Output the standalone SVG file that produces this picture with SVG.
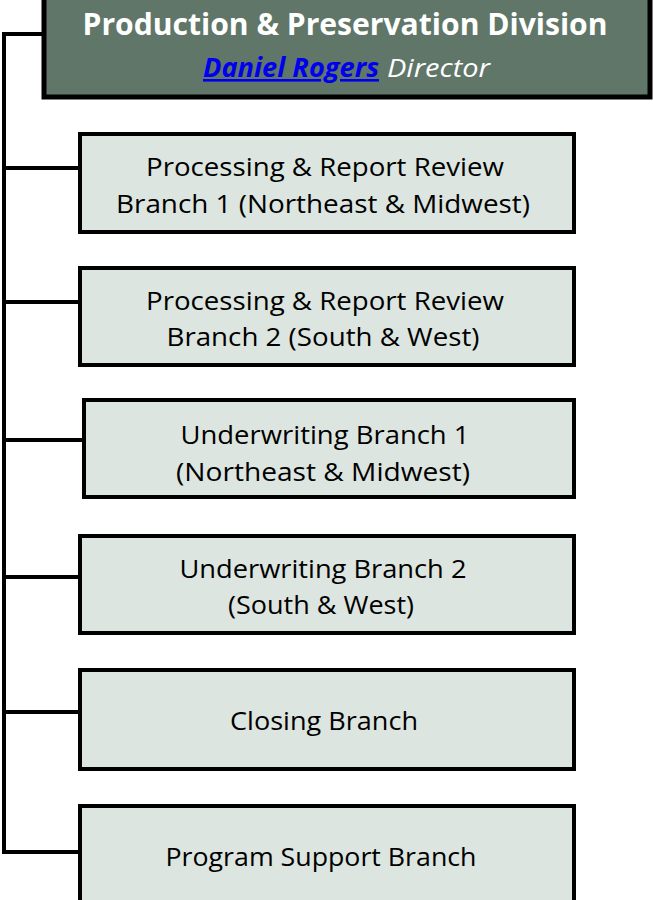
<svg xmlns="http://www.w3.org/2000/svg" width="654" height="900" viewBox="0 0 654 900">
<style>
.box{fill:#dce5df;stroke:#000;stroke-width:4}
.hdr{fill:#5f7668;stroke:#000;stroke-width:5}
.t{font-family:"Open Sans","Liberation Sans",sans-serif;font-size:26px;fill:#000;text-anchor:middle}
.c{fill:none;stroke:#000;stroke-width:4}
</style>
<rect width="654" height="900" fill="#fff"/>
<g id="connectors">
<path class="c" d="M44,34 H4 V852 H80"/>
<path class="c" d="M4,168 H80 M4,302 H80 M4,440 H84 M4,577 H80 M4,712 H80"/>
</g>
<g id="header">
<rect class="hdr" x="44" y="-3" width="606" height="100"/>
<text x="345" y="35" font-family="'Open Sans','Liberation Sans',sans-serif" font-weight="bold" font-size="31" fill="#fff" text-anchor="middle" textLength="525" lengthAdjust="spacingAndGlyphs">Production &amp; Preservation Division</text>
<text x="203" y="77" font-family="'Open Sans','Liberation Sans',sans-serif" font-style="italic" font-size="26"><tspan fill="#0000ee" font-weight="bold" text-decoration="underline" textLength="176" lengthAdjust="spacingAndGlyphs">Daniel Rogers</tspan><tspan fill="#fff" x="387" textLength="103" lengthAdjust="spacingAndGlyphs">Director</tspan></text>
</g>
<g id="n1">
<rect class="box" x="80" y="134" width="494" height="98"/>
<text class="t" x="325" y="176" textLength="358" lengthAdjust="spacingAndGlyphs">Processing &amp; Report Review</text>
<text class="t" x="323" y="213" textLength="414" lengthAdjust="spacingAndGlyphs">Branch 1 (Northeast &amp; Midwest)</text>
</g>
<g id="n2">
<rect class="box" x="80" y="268" width="494" height="97"/>
<text class="t" x="325" y="310" textLength="358" lengthAdjust="spacingAndGlyphs">Processing &amp; Report Review</text>
<text class="t" x="323" y="346" textLength="313" lengthAdjust="spacingAndGlyphs">Branch 2 (South &amp; West)</text>
</g>
<g id="n3">
<rect class="box" x="84" y="400" width="490" height="97"/>
<text class="t" x="325" y="444" textLength="289" lengthAdjust="spacingAndGlyphs">Underwriting Branch 1</text>
<text class="t" x="323" y="481" textLength="294" lengthAdjust="spacingAndGlyphs">(Northeast &amp; Midwest)</text>
</g>
<g id="n4">
<rect class="box" x="80" y="536" width="494" height="97"/>
<text class="t" x="323" y="578" textLength="287" lengthAdjust="spacingAndGlyphs">Underwriting Branch 2</text>
<text class="t" x="321" y="614" textLength="186" lengthAdjust="spacingAndGlyphs">(South &amp; West)</text>
</g>
<g id="n5">
<rect class="box" x="80" y="670" width="494" height="99"/>
<text class="t" x="324" y="730" textLength="188" lengthAdjust="spacingAndGlyphs">Closing Branch</text>
</g>
<g id="n6">
<rect class="box" x="80" y="806" width="494" height="100"/>
<text class="t" x="321" y="866" textLength="311" lengthAdjust="spacingAndGlyphs">Program Support Branch</text>
</g>
</svg>
